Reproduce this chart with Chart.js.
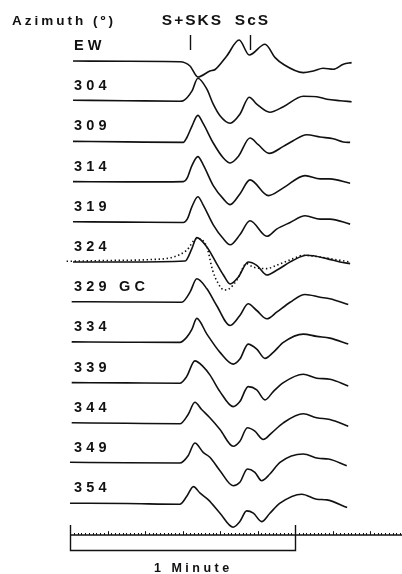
<!DOCTYPE html>
<html>
<head>
<meta charset="utf-8">
<script src="https://cdn.jsdelivr.net/npm/chart.js@4/dist/chart.umd.min.js"></script>
<style>
  html, body { margin: 0; padding: 0; background: #fff; }
  #wrap { width: 402px; height: 574px; position: relative; }
</style>
</head>
<body>
<div id="wrap"><canvas id="c"></canvas></div>
<script>
// Station azimuth for each trace, top to bottom
const azimuthLabels = ['EW', '304', '309', '314', '319', '324', '329 GC', '334', '339', '344', '349', '354'];

// Phase arrivals (seconds on the common time axis)
const phaseNames = ['S+SKS', 'ScS'];
const phaseTimes = [32.1, 48.0];

// Waveforms as [time (s), amplitude] samples
const wEW  = [[0.8,0],[15,-0.3],[29.3,-0.7],[32,-5],[34.1,-16],[37.3,-10],[38.7,-8.5],[41.8,5],[45.1,21],[47.8,6],[52,16.7],[54.7,3.4],[56.9,-3.3],[62.2,-11.6],[64.9,-10],[67.5,-7.3],[70.2,-8.3],[72.9,-3.3],[75.1,-1.6]];
const w304 = [[0.8,1],[15,0.5],[29.3,0],[30.2,0.5],[32.5,10],[34.1,23],[36.5,12],[38.2,-3],[40,-14.5],[42.7,-22],[45.3,-13],[47.8,4],[49.8,-3],[53.3,-11],[56.9,-5.5],[62.2,5],[65.8,4.5],[68.5,2],[72,0.5],[75.1,-0.5]];
const w309 = [[0.8,0],[15,-0.5],[30.2,-1],[31.1,3.4],[32.5,15],[34.1,26],[35.5,18],[38.2,-1.6],[40.9,-16.6],[42.7,-21.6],[44.9,-15],[48,3.4],[50.2,-3.3],[53.1,-12],[56.9,-5],[59.5,0.7],[63.1,6.7],[66.7,4.4],[70.2,2.7],[72.9,-0.6],[74.7,-1]];
const w314 = [[0.8,0],[15,-0.3],[30.2,0],[31.3,4],[32.5,16],[34.1,25],[35.5,17],[38.2,-4],[40.9,-17.3],[42.7,-23],[45.3,-12.3],[48,1.7],[52.9,-14],[56.9,-6.3],[62.7,6],[66.7,2.7],[69.3,2.7],[74.7,-1.7]];
const w319 = [[0.8,0],[15,-0.3],[30.2,-0.7],[31.3,3],[32.5,15],[34.1,25],[35.5,17],[38.2,-3],[40.9,-17],[42.7,-23],[45.3,-13],[48,1],[52.5,-14.5],[55.1,-7.3],[58.7,-0.7],[62.7,6],[66.7,2.7],[69.3,2.7],[74.7,-2.3]];
const w324 = [[0.8,0],[15,0],[30.7,1],[32.5,13.4],[33.8,24.4],[36.5,15],[39.1,-1.6],[40.9,-13],[42.7,-22],[44.9,-15],[47.5,0],[49.8,-3.3],[52.5,-13],[55.1,-8.3],[59.5,1.7],[63.1,6.7],[68.5,3.4],[72,0],[74.7,-1.6]];
const w329 = [[0.45,0.5],[15,0.2],[29.8,0],[32,10],[33.8,23.4],[36.5,13.4],[39.1,-3.3],[42.7,-23.3],[45.3,-13.3],[47.5,-1.6],[49.8,-8.3],[52.5,-16.6],[55.1,-10],[58.7,0],[62.7,7.7],[66.7,5],[69.3,3.4],[74.2,-2.3]];
const w334 = [[0.45,0.5],[15,0.2],[29.3,0],[31.1,5],[32.5,13],[33.8,24],[36.5,8.3],[40,-10],[43.5,-21.7],[45.3,-16.7],[47.5,-1.7],[49.8,-6.7],[52,-16],[54.2,-10],[56.9,0],[62.2,8.3],[65.8,6],[69.3,4.3],[74.2,-1.7]];
const w339 = [[0.45,0],[15,-0.3],[29.3,-0.6],[31.1,6],[33.3,21.7],[35.5,16],[37.3,7.7],[40,-9],[43.5,-24],[45.3,-19],[47.5,-4],[49.8,-7.3],[52,-17.3],[54.2,-9],[56.9,0],[62.2,8.4],[65.8,4.4],[69.3,3.4],[74.2,-3.3]];
const w344 = [[0.45,0],[15,-0.5],[29.3,-1],[31.5,8.3],[33.3,20.6],[35.1,13.3],[37.3,5],[40,-6.7],[43.5,-23.4],[45.3,-18.4],[47.3,-5],[49.3,-8.4],[51.5,-16.7],[53.8,-10],[56.9,0],[62.2,9],[65.8,5],[69.3,3.3],[74.2,-3.4]];
const w349 = [[0,0.7],[15,0.2],[29.3,0],[31.5,7.3],[33.3,20],[35.5,10.7],[37.3,5.7],[40,-7.7],[43.5,-22.7],[45.3,-19.3],[47.3,-6],[49.3,-9.3],[51.1,-17.7],[53.3,-11],[56,0.7],[62.2,9],[66.2,4.7],[68.9,4],[73.8,-2.7]];
const w354 = [[0,0],[15,-0.3],[29.3,-1],[31.1,6.6],[32.9,16.6],[34.7,10],[36.9,3.3],[40,-10],[43.5,-24],[45.3,-18.4],[47.1,-7.7],[48.9,-10],[51.1,-18.4],[53.3,-10],[56,0],[61.8,9],[65.8,4],[68.5,3.3],[73.9,-4.4]];

// Synthetic comparison waveform overlaid on the 324 trace (dotted)
const wSynth324 = [[-0.9,0.7],[10,1.5],[21.3,2.4],[27.6,5],[31.1,11.7],[33.8,23.4],[36.5,15],[38,-8],[39.6,-22],[41.1,-28],[42.4,-27],[44.5,-18],[47.1,-1.6],[48.8,-5],[52.5,-6.6],[55.1,-3.3],[59.5,3.4],[62.2,6.7],[66.7,5],[72,1.7],[74.7,0]];

const traces = [wEW, w304, w309, w314, w319, w324, w329, w334, w339, w344, w349, w354];
const synthIndex = 5;

// Vertical distance between trace baselines (amplitude units)
const SPACING = 40.2;
const INK = '#111';
const FONT = '"Liberation Sans", Arial, Helvetica, sans-serif';

const datasets = traces.map((tr, i) => ({
  data: tr.map(([t, a]) => ({ x: t, y: a - SPACING * i })),
  borderColor: INK,
  borderWidth: 1.6,
  pointRadius: 0,
  cubicInterpolationMode: 'monotone',
  fill: false
}));
datasets.push({
  data: wSynth324.map(([t, a]) => ({ x: t, y: a - SPACING * synthIndex })),
  borderColor: INK,
  borderWidth: 1.6,
  borderDash: [1.4, 2.6],
  pointRadius: 0,
  cubicInterpolationMode: 'monotone',
  fill: false
});

// Draws text with extra spacing between characters
function spacedText(ctx, text, x, y, spacing, align) {
  const chars = [...text];
  const widths = chars.map(ch => ctx.measureText(ch).width);
  let total = 0;
  widths.forEach((w, k) => { total += w + (k < widths.length - 1 ? spacing : 0); });
  let cx = align === 'center' ? x - total / 2 : x;
  ctx.textAlign = 'left';
  chars.forEach((ch, k) => {
    ctx.fillText(ch, cx, y);
    cx += widths[k] + spacing;
  });
}

const decorations = {
  id: 'decorations',
  afterDraw(chart) {
    const { ctx, scales: { x, y } } = chart;
    ctx.save();
    ctx.fillStyle = INK;
    ctx.strokeStyle = INK;
    ctx.textBaseline = 'alphabetic';

    // Header
    ctx.font = 'bold 13.5px ' + FONT;
    spacedText(ctx, 'Azimuth (º)', 12, 25, 3, 'left');

    // Phase names and arrival marks
    ctx.font = 'bold 15.5px ' + FONT;
    ctx.lineWidth = 1.4;
    phaseNames.forEach((name, k) => {
      const px = Math.round(x.getPixelForValue(phaseTimes[k])) + 0.5;
      spacedText(ctx, name, px + 1, 25, 2, 'center');
      ctx.beginPath();
      ctx.moveTo(px, 35);
      ctx.lineTo(px, 50);
      ctx.stroke();
    });

    // Trace labels
    ctx.font = 'bold 14.5px ' + FONT;
    azimuthLabels.forEach((lab, i) => {
      const py = y.getPixelForValue(-SPACING * i);
      spacedText(ctx, lab, 74, py - 11, 4.2, 'left');
    });

    // Time axis: 1 s minor ticks, 10 s ticks, minute ticks
    const axisY = 535;
    const x0 = x.getPixelForValue(0);
    const xEnd = chart.width;
    ctx.lineWidth = 1.7;
    ctx.beginPath();
    ctx.moveTo(x0, axisY);
    ctx.lineTo(xEnd, axisY);
    ctx.stroke();
    for (let s = 0; x.getPixelForValue(s) <= xEnd; s++) {
      const px = Math.round(x.getPixelForValue(s)) + 0.5;
      let len = 2;
      if (s % 60 === 0) len = 10;
      else if (s % 10 === 0) len = 3.8;
      ctx.lineWidth = s % 60 === 0 ? 1.4 : 1;
      ctx.beginPath();
      ctx.moveTo(px, axisY);
      ctx.lineTo(px, axisY - len);
      ctx.stroke();
    }

    // One-minute bracket
    const b0 = Math.round(x.getPixelForValue(0)) + 0.5;
    const b1 = Math.round(x.getPixelForValue(60)) + 0.5;
    ctx.lineWidth = 1.4;
    ctx.beginPath();
    ctx.moveTo(b0, axisY);
    ctx.lineTo(b0, 550.5);
    ctx.lineTo(b1, 550.5);
    ctx.lineTo(b1, axisY);
    ctx.stroke();

    ctx.font = 'bold 12.5px ' + FONT;
    spacedText(ctx, '1 Minute', 154, 571.5, 3.5, 'left');

    ctx.restore();
  }
};

new Chart(document.getElementById('c'), {
  type: 'line',
  data: { datasets },
  options: {
    responsive: true,
    maintainAspectRatio: false,
    animation: false,
    events: [],
    layout: { padding: 0 },
    plugins: { legend: { display: false }, tooltip: { enabled: false } },
    scales: {
      x: { type: 'linear', min: -18.667, max: 88.533, display: false },
      y: { type: 'linear', min: -513, max: 61, display: false }
    }
  },
  plugins: [decorations]
});
</script>
</body>
</html>
